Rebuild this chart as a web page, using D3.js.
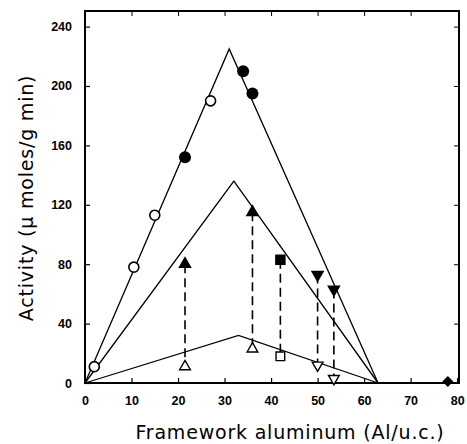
<!DOCTYPE html>
<html>
<head>
<meta charset="utf-8">
<script src="https://cdn.jsdelivr.net/npm/d3@7"></script>
<style>
  body { margin: 0; background: #fff; }
  svg { display: block; }
</style>
</head>
<body>
<div id="chart"></div>
<script>
// fitted activity lines (x = Al/u.c., y = activity)
const upperLine = [[0, 0], [31, 225], [63, 0]];
const middleLine = [[0, 0], [32, 136], [63, 0]];
const lowerLine = [[0, 0], [33, 32], [63, 0]];

// markers
const openCircles = [[2, 11], [10.5, 78], [15, 113], [27, 190]];
const filledCircles = [[21.5, 152], [34, 210], [36, 195]];
const filledDiamond = [[78, 1]];
// paired points joined by dashed lines: [x, filled y, open y, symbol]
const pairs = [
  [21.5, 80, 11, "up"],
  [36, 115, 23, "up"],
  [42, 83, 18, "square"],
  [50, 73, 12, "down"],
  [53.5, 63, 3, "down"]
];

const xTicks = [0, 10, 20, 30, 40, 50, 60, 70, 80];
const yTicks = [0, 40, 80, 120, 160, 200, 240];

const width = 467, height = 444;
const margin = {top: 11, right: 8, bottom: 61, left: 85};

const svg = d3.select("#chart").append("svg")
    .attr("width", width)
    .attr("height", height);

let x = d3.scaleLinear()
    .domain([0, 80.4])
    .range([margin.left, width - margin.right]);

let y = d3.scaleLinear()
    .domain([0, 250.5])
    .range([height - margin.bottom, margin.top]);

const tickFont = "'Liberation Sans', Arial, sans-serif";

// axes, ticks pointing inward
let xAxis = g => g
    .attr("transform", `translate(0,${y(0)})`)
    .call(d3.axisBottom(x).tickValues(xTicks).tickSizeInner(-5).tickSizeOuter(0).tickPadding(13))
    .call(g => g.select(".domain").remove())
    .call(g => g.selectAll("line").attr("stroke-width", 1.2))
    .call(g => g.selectAll("text").attr("font-size", 12.5).attr("font-weight", "bold").attr("font-family", tickFont).attr("fill", "#000"));

let yAxis = g => g
    .attr("transform", `translate(${x(0)},0)`)
    .call(d3.axisLeft(y).tickValues(yTicks).tickSizeInner(-5).tickSizeOuter(0).tickPadding(13))
    .call(g => g.select(".domain").remove())
    .call(g => g.selectAll("line").attr("stroke-width", 1.2))
    .call(g => g.selectAll("text").attr("font-size", 12.5).attr("font-weight", "bold").attr("font-family", tickFont).attr("fill", "#000"));

svg.append("g").call(xAxis);
svg.append("g").call(yAxis);

// top and right ticks
svg.append("g")
    .attr("transform", `translate(0,${y.range()[1]})`)
    .call(d3.axisTop(x).tickValues(xTicks.slice(1, -1)).tickSizeInner(-5).tickSizeOuter(0).tickFormat(""))
    .call(g => g.select(".domain").remove());
svg.append("g")
    .attr("transform", `translate(${x.range()[1]},0)`)
    .call(d3.axisRight(y).tickValues(yTicks.slice(1)).tickSizeInner(-5).tickSizeOuter(0).tickFormat(""))
    .call(g => g.select(".domain").remove());

// frame
svg.append("rect")
    .attr("x", x(0))
    .attr("y", y.range()[1])
    .attr("width", x.range()[1] - x(0))
    .attr("height", y(0) - y.range()[1])
    .attr("fill", "none")
    .attr("stroke", "#000")
    .attr("stroke-width", 2);

let line = d3.line()
    .x(d => x(d[0]))
    .y(d => y(d[1]));

svg.append("g")
    .selectAll("path")
    .data([upperLine, middleLine, lowerLine])
    .enter().append("path")
      .attr("d", line)
      .attr("fill", "none")
      .attr("stroke", "#000")
      .attr("stroke-width", 1.3);

// dashed connectors
svg.append("g")
    .selectAll("line")
    .data(pairs)
    .enter().append("line")
      .attr("x1", d => x(d[0]))
      .attr("x2", d => x(d[0]))
      .attr("y1", d => y(d[1]))
      .attr("y2", d => y(d[2]))
      .attr("stroke", "#000")
      .attr("stroke-width", 1.6)
      .attr("stroke-dasharray", "9,5");

// circles
svg.append("g")
    .selectAll("circle")
    .data(openCircles)
    .enter().append("circle")
      .attr("cx", d => x(d[0]))
      .attr("cy", d => y(d[1]))
      .attr("r", 5)
      .attr("fill", "#fff")
      .attr("stroke", "#000")
      .attr("stroke-width", 1.6);

svg.append("g")
    .selectAll("circle")
    .data(filledCircles)
    .enter().append("circle")
      .attr("cx", d => x(d[0]))
      .attr("cy", d => y(d[1]))
      .attr("r", 6)
      .attr("fill", "#000");

svg.append("g")
    .selectAll("path")
    .data(filledDiamond)
    .enter().append("path")
      .attr("transform", d => `translate(${x(d[0])},${y(d[1])}) rotate(45)`)
      .attr("d", d3.symbol(d3.symbolSquare, 60))
      .attr("fill", "#000");

function shape(kind) {
  if (kind === "square") return d3.symbol(d3.symbolSquare, 110)();
  return d3.symbol(d3.symbolTriangle, 80)();
}
function rot(kind) { return kind === "down" ? " rotate(180)" : ""; }

// filled members of pairs
svg.append("g")
    .selectAll("path")
    .data(pairs)
    .enter().append("path")
      .attr("transform", d => `translate(${x(d[0])},${y(d[1])})${rot(d[3])}`)
      .attr("d", d => shape(d[3]))
      .attr("fill", "#000");

// open members of pairs
svg.append("g")
    .selectAll("path")
    .data(pairs)
    .enter().append("path")
      .attr("transform", d => `translate(${x(d[0])},${y(d[2])})${rot(d[3])}`)
      .attr("d", d => d[3] === "square" ? d3.symbol(d3.symbolSquare, 75)() : d3.symbol(d3.symbolTriangle, 50)())
      .attr("fill", "#fff")
      .attr("stroke", "#000")
      .attr("stroke-width", 1.4);

// axis titles
const titleFont = "'DejaVu Sans', 'Noto Sans', sans-serif";
svg.append("text")
    .attr("x", 290)
    .attr("y", 439)
    .attr("text-anchor", "middle")
    .attr("font-size", 19)
    .attr("letter-spacing", 0.8)
    .attr("font-family", titleFont)
    .text("Framework aluminum (Al/u.c.)");

svg.append("text")
    .attr("transform", `translate(33,198) rotate(-90)`)
    .attr("text-anchor", "middle")
    .attr("font-size", 19)
    .attr("letter-spacing", 0.8)
    .attr("font-family", titleFont)
    .text("Activity (\u03bc moles/g min)");
</script>
</body>
</html>
